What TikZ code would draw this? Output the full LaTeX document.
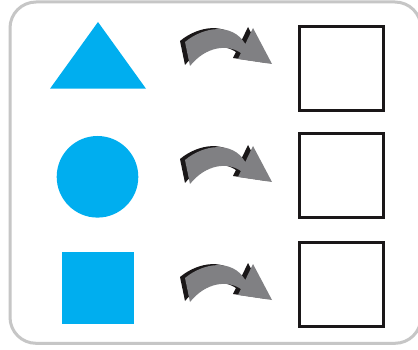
\documentclass[tikz,border=0pt]{standalone}
\definecolor{shapeblue}{HTML}{00AEEF}
\definecolor{framegray}{HTML}{C6C6C6}
\definecolor{arrowgray}{HTML}{808083}
\definecolor{shadowblack}{HTML}{1A1718}
\tikzset{
  answerbox/.style={draw=shadowblack, line width=3pt, minimum width=84pt, minimum height=84pt, inner sep=0pt},
  bluefill/.style={fill=shapeblue, draw=none, inner sep=0pt},
  curvyarrow/.pic={
    \fill[shadowblack, shift={(-5,-1)}] (190,66) -- (185,42) .. controls (203,27) and (232,22) .. (245.3,44) -- (253,28) -- (272,64) -- (238,59) -- (240.9,53) .. controls (228,44) and (206,46) .. (190,66) -- cycle;
    \fill[arrowgray] (190,66) -- (185,42) .. controls (203,27) and (232,22) .. (245.3,44) -- (253,28) -- (272,64) -- (238,59) -- (240.9,53) .. controls (228,44) and (206,46) .. (190,66) -- cycle;
  }
}
\begin{document}
\begin{tikzpicture}[x=1pt,y=-1pt]
\useasboundingbox (0,0) rectangle (418,350);
\fill[white] (0,0) rectangle (418,350);
\clip (0,0) rectangle (418,350);
\draw[framegray, line width=3pt, rounded corners=26pt] (10,2) rectangle (421,343.3);
% left shapes
\fill[shapeblue] (98,22) -- (146,88.7) -- (50,88.7) -- cycle;
\node[bluefill, circle, minimum size=81.6pt] (circ) at (97.5,176.8) {};
\node[bluefill, rectangle, minimum width=72pt, minimum height=72pt] (sq) at (98,287.8) {};
% arrows
\pic (a1) at (0,0) {curvyarrow};
\pic (a2) at (0,118) {curvyarrow};
\pic (a3) at (0,236) {curvyarrow};
% answer boxes
\node[answerbox] (b1) at (341.7,68.8) {};
\node[answerbox] (b2) at (341.7,175.3) {};
\node[answerbox] (b3) at (341.7,284.3) {};
\end{tikzpicture}
\end{document}
